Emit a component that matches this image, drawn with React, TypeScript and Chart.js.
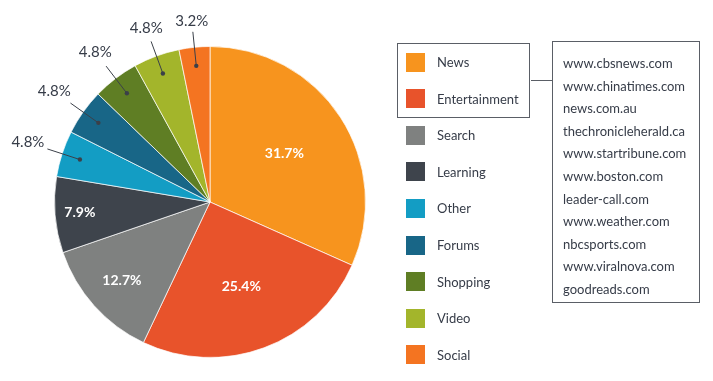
import React, { useEffect, useRef } from "react";
import { Chart, registerables } from "chart.js";

Chart.register(...registerables);

const categories = ["News", "Entertainment", "Search", "Learning", "Other", "Forums", "Shopping", "Video", "Social"];
const shares = [31.7, 25.4, 12.7, 7.9, 4.8, 4.8, 4.8, 4.8, 3.2];
const sliceColors = ["#F7941E", "#E8532B", "#7F8180", "#3E444C", "#139DC4", "#186687", "#5F7E24", "#A3B52B", "#F47421"];
const newsSites = [
  "www.cbsnews.com",
  "www.chinatimes.com",
  "news.com.au",
  "thechronicleherald.ca",
  "www.startribune.com",
  "www.boston.com",
  "leader-call.com",
  "www.weather.com",
  "nbcsports.com",
  "www.viralnova.com",
  "goodreads.com",
];

const FONT = "Lato, 'Open Sans', sans-serif";
const TEXT = "#363c48";
const insideRadius = [0.57, 0.58, 0.76, 0.84];

const labelPlugin = {
  id: "sliceLabels",
  afterDatasetsDraw(chart: any) {
    const ctx = chart.ctx;
    const meta = chart.getDatasetMeta(0);
    meta.data.forEach((arc: any, i: number) => {
      const p = arc.getProps(["x", "y", "startAngle", "endAngle", "outerRadius"], true);
      const mid = (p.startAngle + p.endAngle) / 2;
      const cos = Math.cos(mid);
      const sin = Math.sin(mid);
      const R = p.outerRadius;
      const text = shares[i].toFixed(1) + "%";
      ctx.save();
      if (i < insideRadius.length) {
        const r = R * insideRadius[i];
        ctx.font = "bold 14px " + FONT;
        ctx.fillStyle = "#ffffff";
        ctx.textAlign = "center";
        ctx.textBaseline = "middle";
        ctx.fillText(text, p.x + cos * r, p.y + sin * r);
      } else {
        const dx = p.x + cos * R * 0.88;
        const dy = p.y + sin * R * 0.88;
        const ex = p.x + cos * R * 1.1;
        const ey = p.y + sin * R * 1.1;
        ctx.strokeStyle = "#3b4049";
        ctx.lineWidth = 1;
        ctx.beginPath();
        ctx.moveTo(dx, dy);
        ctx.lineTo(ex, ey);
        ctx.stroke();
        ctx.fillStyle = "#3b4049";
        ctx.beginPath();
        ctx.arc(dx, dy, 2.2, 0, Math.PI * 2);
        ctx.fill();
        ctx.font = "15px " + FONT;
        const w = ctx.measureText(text).width;
        const off = (w / 2) * Math.abs(cos) + 6 * Math.abs(sin) + 3;
        ctx.fillStyle = TEXT;
        ctx.textAlign = "center";
        ctx.textBaseline = "middle";
        ctx.fillText(text, ex + cos * off, ey + sin * off);
      }
      ctx.restore();
    });
  },
};

export default function App() {
  const ref = useRef<HTMLCanvasElement | null>(null);

  useEffect(() => {
    document.body.style.margin = "0";
    const chart = new Chart(ref.current as HTMLCanvasElement, {
      type: "pie",
      data: {
        labels: categories,
        datasets: [
          {
            data: shares,
            backgroundColor: sliceColors,
            borderColor: "rgba(255,255,255,0.7)",
            borderWidth: 1,
          },
        ],
      },
      options: {
        responsive: false,
        animation: false,
        layout: { padding: { left: 54, right: 347, top: 46, bottom: 23 } },
        plugins: {
          legend: { display: false },
          tooltip: { enabled: false },
        },
      },
      plugins: [labelPlugin],
    });
    return () => chart.destroy();
  }, []);

  const itemTop = (i: number) => 62 + i * 36.6;

  return (
    <div style={{ position: "relative", width: 713, height: 381, fontFamily: FONT, color: TEXT, background: "#fff" }}>
      <canvas ref={ref} width={713} height={381} style={{ position: "absolute", left: 0, top: 0 }} />
      <div
        style={{
          position: "absolute",
          left: 397,
          top: 43,
          width: 133,
          height: 75,
          border: "1.5px solid #5a5e66",
          boxSizing: "border-box",
        }}
      />
      <div style={{ position: "absolute", left: 531, top: 80, width: 21, height: 0, borderTop: "1.5px solid #5a5e66" }} />
      <div
        style={{
          position: "absolute",
          left: 552,
          top: 41,
          width: 148,
          height: 262,
          border: "1.5px solid #5a5e66",
          boxSizing: "border-box",
        }}
      />
      {newsSites.map((s, i) => (
        <div
          key={s}
          style={{
            position: "absolute",
            left: 563,
            top: 63 + i * 22.6 - 9,
            height: 18,
            lineHeight: "18px",
            fontSize: 13,
            whiteSpace: "nowrap",
          }}
        >
          {s}
        </div>
      ))}
      {categories.map((c, i) => (
        <React.Fragment key={c}>
          <div
            style={{
              position: "absolute",
              left: 406,
              top: itemTop(i) - 9.5,
              width: 19,
              height: 19,
              background: sliceColors[i],
            }}
          />
          <div
            style={{
              position: "absolute",
              left: 437,
              top: itemTop(i) - 9,
              height: 18,
              lineHeight: "18px",
              fontSize: 13,
              whiteSpace: "nowrap",
            }}
          >
            {c}
          </div>
        </React.Fragment>
      ))}
    </div>
  );
}
